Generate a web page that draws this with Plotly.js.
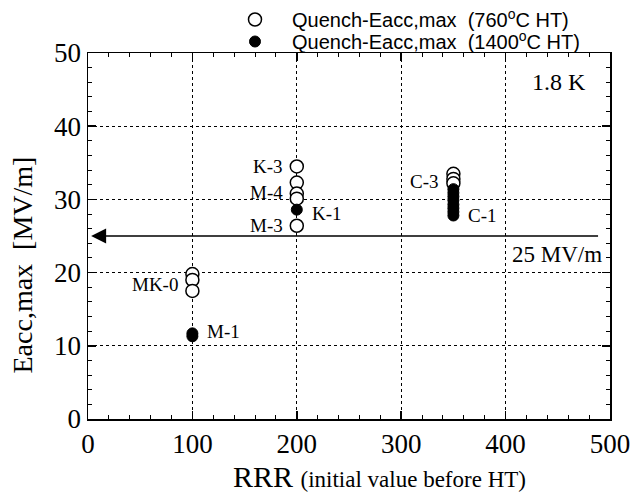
<!DOCTYPE html>
<html>
<head>
<meta charset="utf-8">
<script src="https://cdn.plot.ly/plotly-3.0.1.min.js"></script>
<style>html,body{margin:0;padding:0;background:#fff;}#chart{width:640px;height:494px;}</style>
</head>
<body>
<div id="chart"></div>
<script>
// RRR (initial value before HT) and quench Eacc,max [MV/m]
const rrr760 = [100, 100, 100, 200, 200, 200, 200, 200, 350, 350, 350];
const eacc760 = [19.8, 19.0, 17.5, 34.5, 32.3, 30.8, 30.1, 26.4, 33.5, 32.8, 32.2];
const rrr1400 = [100, 100, 200, 350, 350, 350, 350, 350, 350, 350, 350];
const eacc1400 = [11.7, 11.3, 28.6, 31.4, 30.9, 30.4, 29.9, 29.3, 28.8, 28.3, 27.8];

const cavityNames = ["K-3", "M-4", "M-3", "K-1", "MK-0", "M-1", "C-3", "C-1"];
const cavityRRR   = [200, 200, 200, 200, 100, 100, 350, 350];
const cavityEacc  = [34.5, 30.9, 26.4, 28.1, 18.4, 11.9, 32.5, 27.8];
const cavitySide  = ["left", "left", "left", "right", "left", "right", "left", "right"];

const xTicks = [0, 100, 200, 300, 400, 500];
const yTicks = [0, 10, 20, 30, 40, 50];
const targetGradient = 25;   // MV/m
const temperatureLabel = "1.8 K";

const serif = "Liberation Serif, Times New Roman, serif";
const sans = "Liberation Sans, Arial, sans-serif";

const traces = [
  {
    x: rrr760, y: eacc760, type: "scatter", mode: "markers",
    name: "Quench-Eacc,max\u00a0\u00a0(760<sup>o</sup>C HT)",
    marker: {symbol: "circle", size: 13, color: "#ffffff", line: {color: "#000", width: 1.5}},
    cliponaxis: false, legend: "legend"
  },
  {
    x: rrr1400, y: eacc1400, type: "scatter", mode: "markers",
    name: "Quench-Eacc,max\u00a0\u00a0(1400<sup>o</sup>C HT)",
    marker: {symbol: "circle", size: 11, color: "#000", line: {color: "#000", width: 1}},
    cliponaxis: false, legend: "legend2"
  }
];

const annotations = cavityNames.map((t, i) => ({
  x: cavityRRR[i], y: cavityEacc[i], xref: "x", yref: "y",
  text: t, showarrow: false,
  xanchor: cavitySide[i] === "left" ? "right" : "left",
  xshift: cavitySide[i] === "left" ? -12 : 13,
  yanchor: "middle",
  font: {family: serif, size: 19, color: "#000"}
}));

annotations.push({
  x: 3, y: targetGradient, ax: 490, ay: targetGradient,
  xref: "x", yref: "y", axref: "x", ayref: "y",
  text: "", showarrow: true, arrowhead: 2, arrowsize: 2, arrowwidth: 1.5, arrowcolor: "#000"
});
annotations.push({
  x: 494, y: targetGradient, xref: "x", yref: "y", text: targetGradient + " MV/m",
  showarrow: false, xanchor: "right", yanchor: "top", yshift: -4,
  font: {family: serif, size: 23, color: "#000"}
});
annotations.push({
  x: 479, y: 46, xref: "x", yref: "y", text: temperatureLabel,
  showarrow: false, xanchor: "right", yanchor: "middle",
  font: {family: serif, size: 24, color: "#000"}
});
// axis titles
annotations.push({
  x: 0.559, y: -0.158, xref: "paper", yref: "paper",
  text: "RRR <span style='font-size:23px'>(initial value before HT)</span>",
  showarrow: false, xanchor: "center", yanchor: "middle",
  font: {family: serif, size: 30, color: "#000"}
});
annotations.push({
  x: -0.126, y: 0.42, xref: "paper", yref: "paper",
  text: "Eacc,max\u00a0\u00a0[MV/m]", textangle: -90,
  showarrow: false, xanchor: "center", yanchor: "middle",
  font: {family: serif, size: 28, color: "#000"}
});

const axisCommon = {
  ticks: "inside", ticklen: 8, tickwidth: 1.5, tickcolor: "#000",
  showline: true, linewidth: 1.5, linecolor: "#000", mirror: "allticks",
  showgrid: true, gridcolor: "#000", gridwidth: 1, griddash: "dot",
  zeroline: false, tickfont: {family: serif, size: 27, color: "#000"},
  fixedrange: true, automargin: false
};

const legendCommon = {
  xref: "container", yref: "container", xanchor: "left", yanchor: "top",
  itemwidth: 64, font: {family: sans, size: 20, color: "#000"},
  bgcolor: "rgba(0,0,0,0)", tracegroupgap: 0
};

const layout = {
  width: 640, height: 494,
  margin: {l: 88, r: 30, t: 53, b: 75, autoexpand: false},
  paper_bgcolor: "#fff", plot_bgcolor: "#fff",
  showlegend: true,
  legend: Object.assign({}, legendCommon, {x: 218 / 640, y: 1}),
  legend2: Object.assign({}, legendCommon, {x: 218 / 640, y: 1 - 22 / 494}),
  xaxis: Object.assign({}, axisCommon, {
    range: [0, 500], tickvals: xTicks, ticktext: xTicks.map(String),
    minor: {dtick: 20, tick0: 0, ticks: "inside", ticklen: 4, tickwidth: 1, tickcolor: "#000", showgrid: false}
  }),
  yaxis: Object.assign({}, axisCommon, {
    range: [0, 50], tickvals: yTicks, ticktext: yTicks.map(String),
    minor: {dtick: 2, tick0: 0, ticks: "inside", ticklen: 4, tickwidth: 1, tickcolor: "#000", showgrid: false}
  }),
  annotations: annotations
};

Plotly.newPlot("chart", traces, layout, {staticPlot: true, displayModeBar: false});
</script>
</body>
</html>
